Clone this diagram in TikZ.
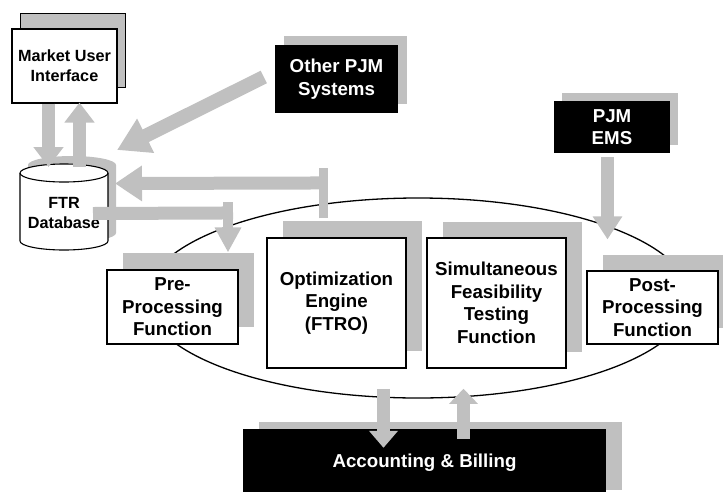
\documentclass[tikz,border=0pt]{standalone}
\usepackage{fontspec}
\setmainfont{Liberation Sans}
\usepackage{xcolor}
\usepackage{tikz}
\usetikzlibrary{arrows.meta}
\usetikzlibrary{calc}
\usetikzlibrary{shadows,shapes}

\definecolor{pjmgray}{RGB}{192,192,192}
\tikzset{
    bigtext/.style={font=\bfseries\fontsize{18.7}{22.5}\selectfont},
    smalltext/.style={font=\bfseries\fontsize{16.2}{20}\selectfont},
    whitebox/.style={draw, fill=white, line width=1.1pt, align=center, inner sep=0pt},
    blackbox/.style={fill=black, text=white, align=center, inner sep=0pt},
    back/.style 2 args={general shadow={fill=pjmgray, shadow xshift=#1, shadow yshift=#2}},
    fatarrow/.style 2 args={draw=pjmgray, line width=13pt, -{Triangle[width=#1, length=#2]}},
}

\begin{document}
\begin{tikzpicture}[x=1pt, y=-1pt]
            \useasboundingbox (0,0) rectangle (723,491);

            \draw (418,298) node[draw, ellipse, line width=1.3pt, minimum width=544pt, minimum height=200pt] (ring) {};

            % database
            \fill[pjmgray, shift={(8,-8)}] (20,173) -- (20,241) arc[start angle=180, end angle=0, x radius=44, y radius=9] -- (108,173) arc[start angle=0, end angle=-180, x radius=44, y radius=9] -- cycle;
            \draw[fill=white, line width=1.1pt] (20,173) -- (20,241) arc[start angle=180, end angle=0, x radius=44, y radius=9] -- (108,173) arc[start angle=0, end angle=-180, x radius=44, y radius=9] -- cycle;
            \draw[line width=1.1pt] (20,173) arc[start angle=180, end angle=0, x radius=44, y radius=9];
            \draw (64,213) node[smalltext, align=center] (db) {FTR\\Database};
            \coordinate (dbtop) at (64,164);
            \coordinate (dbcorner) at (117,150);
            \coordinate (dbside) at (115,183.5);
            \coordinate (dbmid) at (93,213.5);

            \draw (64.5,66) node[whitebox, smalltext, minimum width=105pt, minimum height=74pt,
                general shadow={draw=black, fill=pjmgray, line width=1.1pt, shadow xshift=8.5pt, shadow yshift=15.5pt}] (mui) {Market User\\Interface};
            \draw (336.5,79) node[blackbox, bigtext, minimum width=123pt, minimum height=68pt, back={9pt}{9pt}] (other) {Other PJM\\Systems};
            \draw (612,127) node[blackbox, bigtext, minimum width=116pt, minimum height=52pt, back={8pt}{8.5pt}] (ems) {PJM\\EMS};
            \draw (172.5,307) node[whitebox, bigtext, minimum width=131pt, minimum height=74pt, back={16pt}{17pt}] (pre) {Pre-\\Processing\\Function};
            \draw (336.5,303) node[whitebox, bigtext, minimum width=139pt, minimum height=130pt, back={16pt}{17pt}] (opt) {Optimization\\Engine\\(FTRO)};
            \draw (496.5,303) node[whitebox, bigtext, minimum width=139pt, minimum height=130pt, back={16pt}{16pt}] (sim) {Simultaneous\\Feasibility\\Testing\\Function};
            \draw (652.5,307.5) node[whitebox, bigtext, minimum width=131pt, minimum height=73pt, back={15.5pt}{16pt}] (post) {Post-\\Processing\\Function};
            \draw (424.5,463) node[blackbox, bigtext, minimum width=363pt, minimum height=68pt, back={16pt}{7pt}] (acct) {Accounting \& Billing};

            % arrows
            \draw[fatarrow={29pt}{20pt}] ($(mui.south)+(-16,0)$) -- ($(dbtop)+(-15.5,3)$);
            \draw[fatarrow={29pt}{20pt}] ($(dbtop)+(15.5,3)$) -- ($(mui.south)+(15,-1)$);
            \draw[fatarrow={36pt}{32pt}, line width=14pt] ($(other.west)+(-11,-2)$) -- (dbcorner);
            \draw[pjmgray, line width=9pt] ($(opt.north)+(-13,-19)$) -- ($(opt.north)+(-13,-69)$);
            \draw[fatarrow={34pt}{27pt}] ($(opt.north)+(-9,-54.5)$) -- (dbside);
            \draw[pjmgray, line width=13pt] (dbmid) -- ($(pre.north)+(60.5,-56.5)$);
            \draw[fatarrow={25pt}{25pt}, line width=10pt] ($(pre.north)+(55.5,-67)$) -- ($(pre.north)+(55.5,-17)$);
            \draw[fatarrow={28pt}{23pt}] ($(ems.south)+(-4.5,4)$) -- ($(post.north)+(-45,-31)$);
            \draw[fatarrow={28pt}{17pt}] ($(acct.north)+(-41,-40)$) -- ($(acct.north)+(-41,19)$);
            \draw[fatarrow={28pt}{15pt}] ($(acct.north)+(39,10)$) -- ($(acct.north)+(39,-40)$);

\end{tikzpicture}
\end{document}
